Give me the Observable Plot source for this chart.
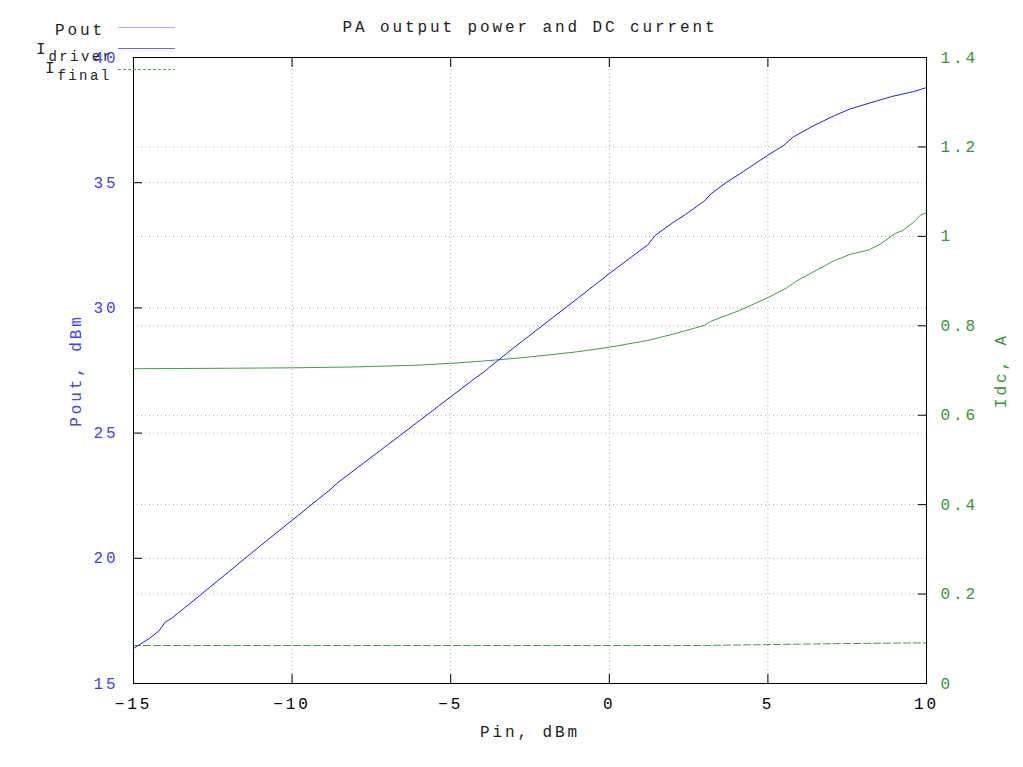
<!DOCTYPE html>
<html>
<head>
<meta charset="utf-8">
<script src="https://cdn.jsdelivr.net/npm/d3@7"></script>
<script src="https://cdn.jsdelivr.net/npm/@observablehq/plot@0.6"></script>
<style>
  html, body { margin: 0; padding: 0; background: #fff; }
  #chart svg { display: block; }
</style>
</head>
<body>
<div id="chart"></div>
<script>
// ---- data ----
const titleText = "PA output power and DC current";
const xLabel = "Pin, dBm";
const yLabel = "Pout, dBm";
const y2Label = "Idc, A";

const xTicks = [-15, -10, -5, 0, 5, 10];
const poutTicks = [15, 20, 25, 30, 35, 40];
const idcTicks = [0, 0.2, 0.4, 0.6, 0.8, 1.0, 1.2, 1.4];
const idcTickLabels = ["0", "0.2", "0.4", "0.6", "0.8", "1", "1.2", "1.4"];

const pinPout = [-15, -14.5, -14.2, -14.0, -13.8, -13.0, -12.0, -11.0, -10.0, -9.0, -8.8, -8.6, -8.0, -7.0, -6.0, -5.0, -4.2, -4.0, -3.0, -2.0, -1.0, 0.0, 1.0, 1.2, 1.45, 2.0, 2.4, 3.0, 3.2, 3.7, 4.1, 5.0, 5.5, 5.8, 6.4, 7.1, 7.6, 8.1, 8.9, 9.6, 10.0];
const pout    = [16.40, 16.80, 17.10, 17.45, 17.60, 18.42, 19.46, 20.50, 21.52, 22.54, 22.74, 22.98, 23.56, 24.52, 25.48, 26.45, 27.22, 27.40, 28.42, 29.40, 30.38, 31.37, 32.32, 32.50, 32.90, 33.40, 33.73, 34.27, 34.55, 35.02, 35.34, 36.10, 36.49, 36.83, 37.25, 37.68, 37.95, 38.14, 38.44, 38.64, 38.80];

const pinDriver = [-15, -12, -10, -8, -6, -5, -4, -3, -2, -1, 0, 1.2, 2.0, 3.0, 3.2, 4.1, 5.0, 5.6, 5.9, 6.6, 7.1, 7.6, 8.2, 8.55, 9.0, 9.25, 9.6, 9.8, 10.0];
const idcDriver = [0.704, 0.705, 0.706, 0.708, 0.712, 0.716, 0.721, 0.727, 0.734, 0.742, 0.752, 0.767, 0.781, 0.801, 0.810, 0.834, 0.863, 0.885, 0.900, 0.927, 0.946, 0.960, 0.970, 0.983, 1.006, 1.013, 1.032, 1.047, 1.053];

const pinFinal = [-15, -10, -5, 0, 3, 5, 7, 10];
const idcFinal = [0.085, 0.085, 0.085, 0.085, 0.085, 0.087, 0.089, 0.091];

// ---- helpers: map right axis (A) onto left axis (dBm) ----
const yDomain = [15, 40];
const y2Domain = [0, 1.4];
const toLeft = a => yDomain[0] + (a - y2Domain[0]) * (yDomain[1] - yDomain[0]) / (y2Domain[1] - y2Domain[0]);

const poutData = pinPout.map((x, i) => ({x, y: pout[i]}));
const driverData = pinDriver.map((x, i) => ({x, y: toLeft(idcDriver[i])}));
const finalData = pinFinal.map((x, i) => ({x, y: toLeft(idcFinal[i])}));
const idcTickPos = idcTicks.map(toLeft);

const fmtMinus = d => String(d).replace("-", "\u2212");
const blue = "#1a1aff";
const green = "#3f9f3f";
const fontFam = "'Liberation Mono', 'DejaVu Sans Mono', monospace";
const gridStyle = {stroke: "#a8a8a8", strokeOpacity: 1, strokeDasharray: "1,3", strokeWidth: 1};

const chart = Plot.plot({
  width: 1023,
  height: 767,
  marginLeft: 133,
  marginRight: 97,
  marginTop: 57,
  marginBottom: 84,
  style: {fontFamily: fontFam, fontSize: "16px", letterSpacing: "2.9px", background: "#fff", color: "#000"},
  x: {domain: [-15, 10]},
  y: {domain: yDomain},
  marks: [
    Plot.gridX(xTicks, gridStyle),
    Plot.gridY(poutTicks, gridStyle),
    Plot.gridY(idcTickPos, gridStyle),
    Plot.line(finalData, {x: "x", y: "y", stroke: green, strokeWidth: 1, strokeDasharray: "7,3"}),
    Plot.line(driverData, {x: "x", y: "y", stroke: green, strokeWidth: 1}),
    Plot.line(poutData, {x: "x", y: "y", stroke: blue, strokeWidth: 1}),
    Plot.frame({stroke: "#000", strokeWidth: 1}),
    // inward ticks
    Plot.axisX(xTicks, {anchor: "bottom", tickSize: -9, tickFormat: () => "", label: null, stroke: "#000"}),
    Plot.axisX(xTicks, {anchor: "top", tickSize: -9, tickFormat: () => "", label: null, stroke: "#000"}),
    Plot.axisY(poutTicks, {anchor: "left", tickSize: -9, tickFormat: () => "", label: null, stroke: "#000"}),
    Plot.axisY(idcTickPos, {anchor: "right", tickSize: -9, tickFormat: () => "", label: null, stroke: "#000"}),
    // tick labels
    Plot.axisX(xTicks, {anchor: "bottom", tickSize: 0, tickPadding: 14, tickFormat: fmtMinus, label: null, fill: "#000", fontSize: 16}),
    Plot.axisY(poutTicks, {anchor: "left", tickSize: 0, tickPadding: 15, tickFormat: d => String(d), label: null, fill: "#4040ff", fontSize: 16}),
    Plot.axisY(idcTickPos, {anchor: "right", tickSize: 0, tickPadding: 14, tickFormat: (d, i) => idcTickLabels[i], label: null, fill: "#2f9a2f", fontSize: 16}),
    // title and axis labels
    Plot.text([titleText], {text: d => d, frameAnchor: "top", lineAnchor: "middle", textAnchor: "middle", dy: -31, fill: "#222", fontSize: 16}),
    Plot.text([xLabel], {text: d => d, frameAnchor: "bottom", lineAnchor: "middle", textAnchor: "middle", dy: 48, fill: "#222", fontSize: 16}),
    Plot.text([yLabel], {text: d => d, frameAnchor: "left", lineAnchor: "middle", textAnchor: "middle", dx: -58, rotate: -90, fill: "#4040ff", fontSize: 16}),
    Plot.text([y2Label], {text: d => d, frameAnchor: "right", lineAnchor: "middle", textAnchor: "middle", dx: 74, rotate: -90, fill: "#2f9a2f", fontSize: 16})
  ]
});

document.getElementById("chart").appendChild(chart);

// ---- legend (top-left, gnuplot style) ----
const svg = d3.select(chart);
const lg = svg.append("g").attr("font-family", fontFam).attr("fill", "#222");
const legendItems = [
  {main: "Pout", sub: null, tx: 105, ty: 35, ly: 27.5, stroke: "#aaaaff", dash: null},
  {main: "I", sub: "driver", tx: 36, ty: 54, ly: 48.5, stroke: "#6666ff", dash: null},
  {main: "I", sub: "final", tx: 45, ty: 73, ly: 69.5, stroke: "#4caa4c", dash: "3,2"}
];
legendItems.forEach(it => {
  const t = lg.append("text").attr("y", it.ty).attr("font-size", 16).attr("letter-spacing", "2.9px");
  if (it.sub === null) {
    t.attr("x", it.tx).attr("text-anchor", "end").text(it.main);
  } else {
    t.attr("x", it.tx).attr("text-anchor", "start");
    t.append("tspan").text(it.main);
    t.append("tspan").attr("dy", 7).attr("font-size", 14).attr("letter-spacing", "2.4px").text(it.sub);
  }
  lg.append("line").attr("x1", 118).attr("x2", 175).attr("y1", it.ly).attr("y2", it.ly)
    .attr("stroke", it.stroke).attr("stroke-width", 1.2).attr("stroke-dasharray", it.dash);
});
</script>
</body>
</html>
